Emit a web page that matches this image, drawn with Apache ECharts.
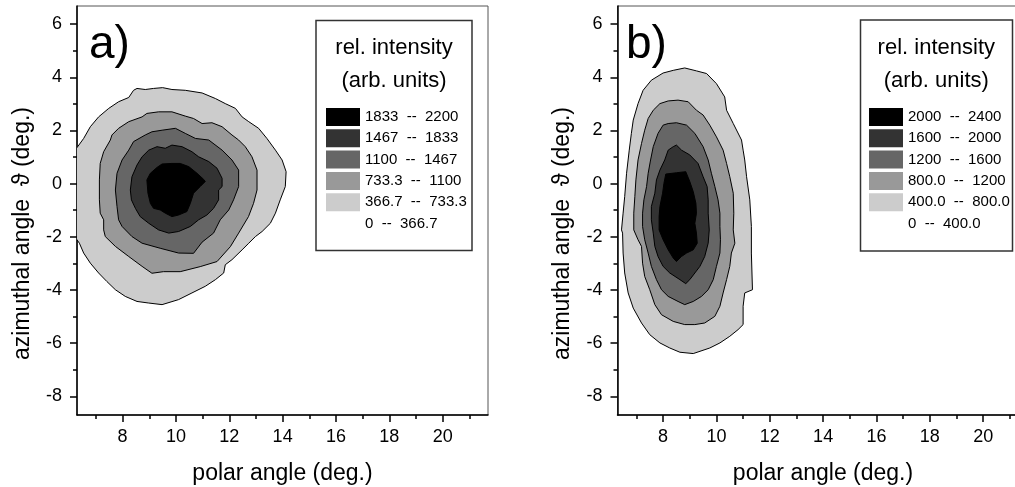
<!DOCTYPE html>
<html><head><meta charset="utf-8">
<script src="https://cdn.jsdelivr.net/npm/echarts@6/dist/echarts.min.js"></script>
<style>html,body{margin:0;padding:0;background:#fff}#c{width:1015px;height:487px}</style>
</head><body><div id="c"></div>
<script>
// ---- axis ticks ----
const xMajorTicks = [8, 10, 12, 14, 16, 18, 20];
const xMinorTicks = [7, 9, 11, 13, 15, 17, 19, 21];
const yMajorTicks = [-8, -6, -4, -2, 0, 2, 4, 6];
const yMinorTicks = [-7, -5, -3, -1, 1, 3, 5];
const xMin = 6.29, xMax = 21.7, yMin = -8.7, yMax = 6.68;

// ---- legend categories (dark -> light) ----
const levelNamesA = ['1833  --  2200', '1467  --  1833', '1100  --  1467', '733.3  --  1100', '366.7  --  733.3', '0  --  366.7'];
const levelNamesB = ['2000  --  2400', '1600  --  2000', '1200  --  1600', '800.0  --  1200', '400.0  --  800.0', '0  --  400.0'];
const levelColors = ['#000000', '#333333', '#666666', '#999999', '#cccccc', '#ffffff'];

// ---- contour outlines, panel a (polar angle, azimuthal angle), outer -> inner ----
const contourA1 = [[6.0,1.0],[6.33,1.41],[6.54,1.70],[6.79,2.14],[7.10,2.51],[7.48,2.83],[7.85,3.08],[8.23,3.24],[8.41,3.51],[8.54,3.58],[8.85,3.54],[9.16,3.58],[9.50,3.61],[9.85,3.54],[10.35,3.51],[10.98,3.41],[11.48,3.20],[11.85,3.01],[12.23,2.83],[12.48,2.51],[12.73,2.33],[13.10,2.08],[13.41,1.70],[13.73,1.26],[13.98,0.89],[14.13,0.45],[14.10,-0.11],[13.91,-0.61],[13.73,-1.11],[13.54,-1.49],[13.23,-1.80],[12.98,-1.99],[12.73,-2.24],[12.48,-2.49],[12.10,-2.86],[11.85,-3.05],[11.79,-3.36],[11.48,-3.61],[11.10,-3.86],[10.60,-4.11],[10.10,-4.36],[9.48,-4.55],[8.98,-4.49],[8.54,-4.43],[8.10,-4.24],[7.73,-3.99],[7.41,-3.68],[7.10,-3.36],[6.79,-2.99],[6.54,-2.61],[6.38,-2.24],[6.0,-1.7]];
const contourA2 = [[7.13,0.14],[7.16,0.76],[7.29,1.20],[7.54,1.64],[7.60,1.83],[7.85,2.08],[8.23,2.33],[8.73,2.51],[8.91,2.64],[9.35,2.70],[9.85,2.70],[10.35,2.54],[10.66,2.45],[10.98,2.26],[11.35,2.29],[11.73,2.14],[12.10,1.83],[12.35,1.64],[12.60,1.39],[12.85,1.01],[13.04,0.51],[13.04,-0.24],[12.91,-0.74],[12.72,-1.24],[12.35,-1.86],[12.04,-2.37],[11.54,-2.93],[10.91,-3.12],[10.16,-3.31],[9.53,-3.31],[9.10,-3.37],[8.73,-3.11],[8.23,-2.74],[7.73,-2.36],[7.35,-1.99],[7.29,-1.74],[7.29,-1.36],[7.16,-1.11],[7.13,-0.61]];
const contourA3 = [[7.73,-0.24],[7.79,0.39],[7.98,0.89],[8.23,1.26],[8.41,1.58],[8.85,1.83],[9.10,1.95],[9.48,2.01],[9.98,2.08],[10.35,1.89],[10.73,1.70],[11.23,1.64],[11.73,1.26],[12.10,0.89],[12.35,0.51],[12.35,-0.11],[12.16,-0.61],[11.98,-0.99],[11.66,-1.36],[11.41,-1.86],[10.98,-2.20],[10.66,-2.62],[10.10,-2.61],[9.41,-2.43],[8.73,-2.24],[8.35,-1.99],[7.98,-1.61],[7.85,-1.36],[7.79,-0.86]];
const contourA4 = [[8.29,-0.24],[8.35,0.26],[8.54,0.70],[8.73,1.01],[8.98,1.26],[9.29,1.39],[9.60,1.33],[9.85,1.45],[10.23,1.39],[10.60,1.20],[10.85,1.01],[11.23,0.83],[11.54,0.58],[11.73,0.20],[11.73,-0.11],[11.60,-0.24],[11.60,-0.61],[11.41,-0.93],[11.16,-1.18],[10.85,-1.36],[10.54,-1.61],[10.10,-1.80],[9.73,-1.86],[9.35,-1.74],[8.98,-1.49],[8.66,-1.24],[8.48,-0.93],[8.33,-0.61]];
const contourA5 = [[8.91,0.14],[9.04,0.39],[9.29,0.61],[9.48,0.74],[9.85,0.76],[10.16,0.76],[10.48,0.64],[10.79,0.39],[11.04,0.16],[11.10,0.08],[10.91,-0.11],[10.66,-0.36],[10.54,-0.74],[10.41,-1.05],[10.10,-1.18],[9.85,-1.24],[9.60,-1.11],[9.41,-0.99],[9.16,-0.93],[9.04,-0.74],[8.95,-0.36]];

// ---- contour outlines, panel b ----
const contourB1 = [[8.81,4.35],[9.25,4.24],[9.63,4.14],[10.00,3.76],[10.31,3.26],[10.38,2.76],[10.63,2.26],[10.94,1.64],[11.00,1.26],[11.06,0.89],[11.13,0.26],[11.25,-0.61],[11.31,-1.61],[11.31,-2.61],[11.35,-3.99],[11.06,-4.11],[11.00,-4.61],[11.00,-5.30],[10.81,-5.49],[10.50,-5.74],[10.13,-5.99],[9.75,-6.18],[9.13,-6.39],[8.63,-6.34],[8.25,-6.18],[7.88,-5.99],[7.50,-5.68],[7.19,-5.24],[6.88,-4.68],[6.69,-4.11],[6.56,-3.36],[6.50,-2.61],[6.48,-1.86],[6.44,-1.74],[6.50,-1.11],[6.56,-0.49],[6.63,0.39],[6.73,1.26],[6.81,1.89],[6.88,2.39],[7.06,3.01],[7.25,3.51],[7.56,3.89],[8.00,4.16],[8.38,4.26]];
const contourB2 = [[7.88,3.01],[8.19,3.11],[8.56,3.14],[8.94,3.08],[9.25,2.76],[9.50,2.58],[9.75,2.20],[10.00,1.76],[10.25,1.26],[10.38,0.76],[10.50,0.26],[10.63,-0.36],[10.65,-1.11],[10.63,-1.74],[10.69,-2.24],[10.56,-2.61],[10.50,-3.11],[10.38,-3.61],[10.25,-4.11],[10.13,-4.61],[9.94,-4.99],[9.56,-5.24],[9.19,-5.30],[8.81,-5.30],[8.38,-5.18],[7.94,-4.93],[7.69,-4.55],[7.50,-3.99],[7.31,-3.49],[7.23,-2.99],[7.19,-2.36],[7.06,-2.11],[6.90,-1.74],[6.90,-1.11],[6.94,-0.49],[6.98,0.14],[7.06,0.89],[7.19,1.51],[7.31,2.01],[7.44,2.45],[7.63,2.76]];
const contourB3 = [[8.19,2.26],[8.50,2.29],[8.88,2.20],[9.19,1.89],[9.50,1.39],[9.69,0.89],[9.81,0.39],[9.94,-0.11],[10.06,-0.61],[10.13,-1.11],[10.13,-1.61],[10.15,-2.11],[10.13,-2.61],[10.00,-3.11],[9.88,-3.61],[9.69,-3.99],[9.44,-4.24],[9.13,-4.43],[8.81,-4.55],[8.56,-4.43],[8.19,-4.24],[7.94,-3.99],[7.75,-3.61],[7.56,-3.11],[7.44,-2.61],[7.31,-2.11],[7.23,-1.61],[7.23,-1.11],[7.28,-0.61],[7.38,-0.11],[7.44,0.39],[7.53,0.89],[7.63,1.39],[7.81,1.89],[8.00,2.20]];
const contourB4 = [[8.50,1.45],[8.69,1.26],[9.00,1.08],[9.31,0.76],[9.50,0.26],[9.65,-0.11],[9.69,-0.61],[9.69,-1.11],[9.73,-1.74],[9.69,-2.24],[9.56,-2.74],[9.38,-3.11],[9.19,-3.36],[9.00,-3.61],[8.85,-3.76],[8.63,-3.61],[8.25,-3.36],[8.00,-3.11],[7.81,-2.74],[7.69,-2.36],[7.63,-1.86],[7.56,-1.36],[7.56,-0.86],[7.69,-0.36],[7.75,0.14],[7.88,0.51],[8.06,0.89],[8.19,1.26],[8.38,1.39]];
const contourB5 = [[8.10,0.36],[8.50,0.41],[8.85,0.45],[9.00,0.08],[9.13,-0.30],[9.23,-0.74],[9.25,-1.11],[9.19,-1.49],[9.25,-1.86],[9.28,-2.24],[9.13,-2.49],[8.88,-2.61],[8.69,-2.74],[8.50,-2.93],[8.38,-2.80],[8.19,-2.49],[8.00,-2.11],[7.85,-1.74],[7.85,-1.24],[7.88,-0.86],[7.98,-0.36],[8.03,0.01]];

const FONT = "'Liberation Sans', Arial, Helvetica, sans-serif";

function renderContour(params, api) {
  if (params.dataIndexInside !== 0) return null;
  const n = params.dataInsideLength;
  const pts = [];
  for (let i = 0; i < n; i++) pts.push(api.coord([api.value(0, i), api.value(1, i)]));
  return { type: 'polygon', shape: { points: pts },
    style: { fill: api.visual('color'), stroke: '#000', lineWidth: 1 } };
}

function buildSeries(contours, names, gi) {
  const out = [];
  contours.forEach(function (c, k) {
    const li = 4 - k;
    out.push({ type: 'custom', name: names[li], xAxisIndex: gi * 2, yAxisIndex: gi * 2,
      clip: true, renderItem: renderContour, itemStyle: { color: levelColors[li] },
      data: c, silent: true, z: 2 + k });
  });
  out.push({ type: 'custom', name: names[5], xAxisIndex: gi * 2, yAxisIndex: gi * 2,
    renderItem: function () { return null; }, itemStyle: { color: levelColors[5] }, data: [] });
  return out;
}

function xAxes(gi) {
  return [
    { gridIndex: gi, type: 'value', min: xMin, max: xMax, position: 'bottom',
      axisLine: { show: true, onZero: false, lineStyle: { color: '#000', width: 1.5 } },
      axisTick: { show: true, customValues: xMajorTicks, length: 7, lineStyle: { color: '#000', width: 1.5 } },
      axisLabel: { show: true, customValues: xMajorTicks, fontSize: 18, color: '#000', margin: 13, fontFamily: FONT },
      splitLine: { show: false },
      name: 'polar angle (deg.)', nameLocation: 'middle', nameGap: 47,
      nameTextStyle: { fontSize: 23, color: '#000', fontFamily: FONT } },
    { gridIndex: gi, type: 'value', min: xMin, max: xMax, position: 'bottom',
      axisLine: { show: false, onZero: false }, axisLabel: { show: false }, splitLine: { show: false },
      axisTick: { show: true, customValues: xMinorTicks, length: 4, lineStyle: { color: '#000', width: 1.5 } } }
  ];
}
function yAxes(gi) {
  return [
    { gridIndex: gi, type: 'value', min: yMin, max: yMax, position: 'left',
      axisLine: { show: true, onZero: false, lineStyle: { color: '#000', width: 1.5 } },
      axisTick: { show: true, customValues: yMajorTicks, length: 7, lineStyle: { color: '#000', width: 1.5 } },
      axisLabel: { show: true, customValues: yMajorTicks, fontSize: 18, color: '#000', margin: 15, fontFamily: FONT },
      splitLine: { show: false },
      name: 'azimuthal angle  \u03d1 (deg.)', nameLocation: 'middle', nameGap: 43,
      nameTextStyle: { fontSize: 23, color: '#000', fontFamily: FONT, padding: [0, 46, 0, 0] } },
    { gridIndex: gi, type: 'value', min: yMin, max: yMax, position: 'left',
      axisLine: { show: false, onZero: false }, axisLabel: { show: false }, splitLine: { show: false },
      axisTick: { show: true, customValues: yMinorTicks, length: 4, lineStyle: { color: '#000', width: 1.5 } } }
  ];
}

function legendFor(names, left) {
  return { orient: 'vertical', left: left, top: 108, padding: 0, itemWidth: 34, itemHeight: 18,
    itemGap: 3.3, icon: 'rect', selectedMode: false, itemStyle: { borderWidth: 0 }, z: 50,
    textStyle: { fontSize: 15, color: '#000', fontFamily: FONT }, data: names.slice() };
}

function txt(text, x, y, size, align) {
  return { type: 'text', x: x, y: y, silent: true, z: 100,
    style: { text: text, fill: '#000', fontSize: size, fontFamily: FONT, align: align || 'center', verticalAlign: 'middle' } };
}

const chart = echarts.init(document.getElementById('c'), null, { renderer: 'canvas' });
chart.setOption({
  backgroundColor: '#fff',
  animation: false,
  grid: [
    { left: 77, top: 6, width: 411, height: 409, show: true, borderColor: '#555', borderWidth: 1,
      backgroundColor: 'transparent', containLabel: false, outerBoundsMode: 'none' },
    { left: 617.5, top: 6, width: 411, height: 409, show: true, borderColor: '#555', borderWidth: 1,
      backgroundColor: 'transparent', containLabel: false, outerBoundsMode: 'none' }
  ],
  xAxis: xAxes(0).concat(xAxes(1)),
  yAxis: yAxes(0).concat(yAxes(1)),
  legend: [legendFor(levelNamesA, 326), legendFor(levelNamesB, 869)],
  series: buildSeries([contourA1, contourA2, contourA3, contourA4, contourA5], levelNamesA, 0)
    .concat(buildSeries([contourB1, contourB2, contourB3, contourB4, contourB5], levelNamesB, 1)),
  graphic: [
    { type: 'rect', shape: { x: 316, y: 20.5, width: 156, height: 230 }, silent: true, z: 1,
      style: { fill: 'none', stroke: '#333', lineWidth: 1.5 } },
    { type: 'rect', shape: { x: 860.5, y: 20, width: 152, height: 231 }, silent: true, z: 1,
      style: { fill: 'none', stroke: '#333', lineWidth: 1.5 } },
    txt('rel. intensity', 394, 47.5, 22),
    txt('(arb. units)', 394, 80.5, 22),
    txt('rel. intensity', 936.3, 47.5, 22),
    txt('(arb. units)', 936.3, 80.5, 22),
    txt('a)', 89, 45, 46, 'left'),
    txt('b)', 626, 45, 46, 'left')
  ]
});
</script></body></html>
